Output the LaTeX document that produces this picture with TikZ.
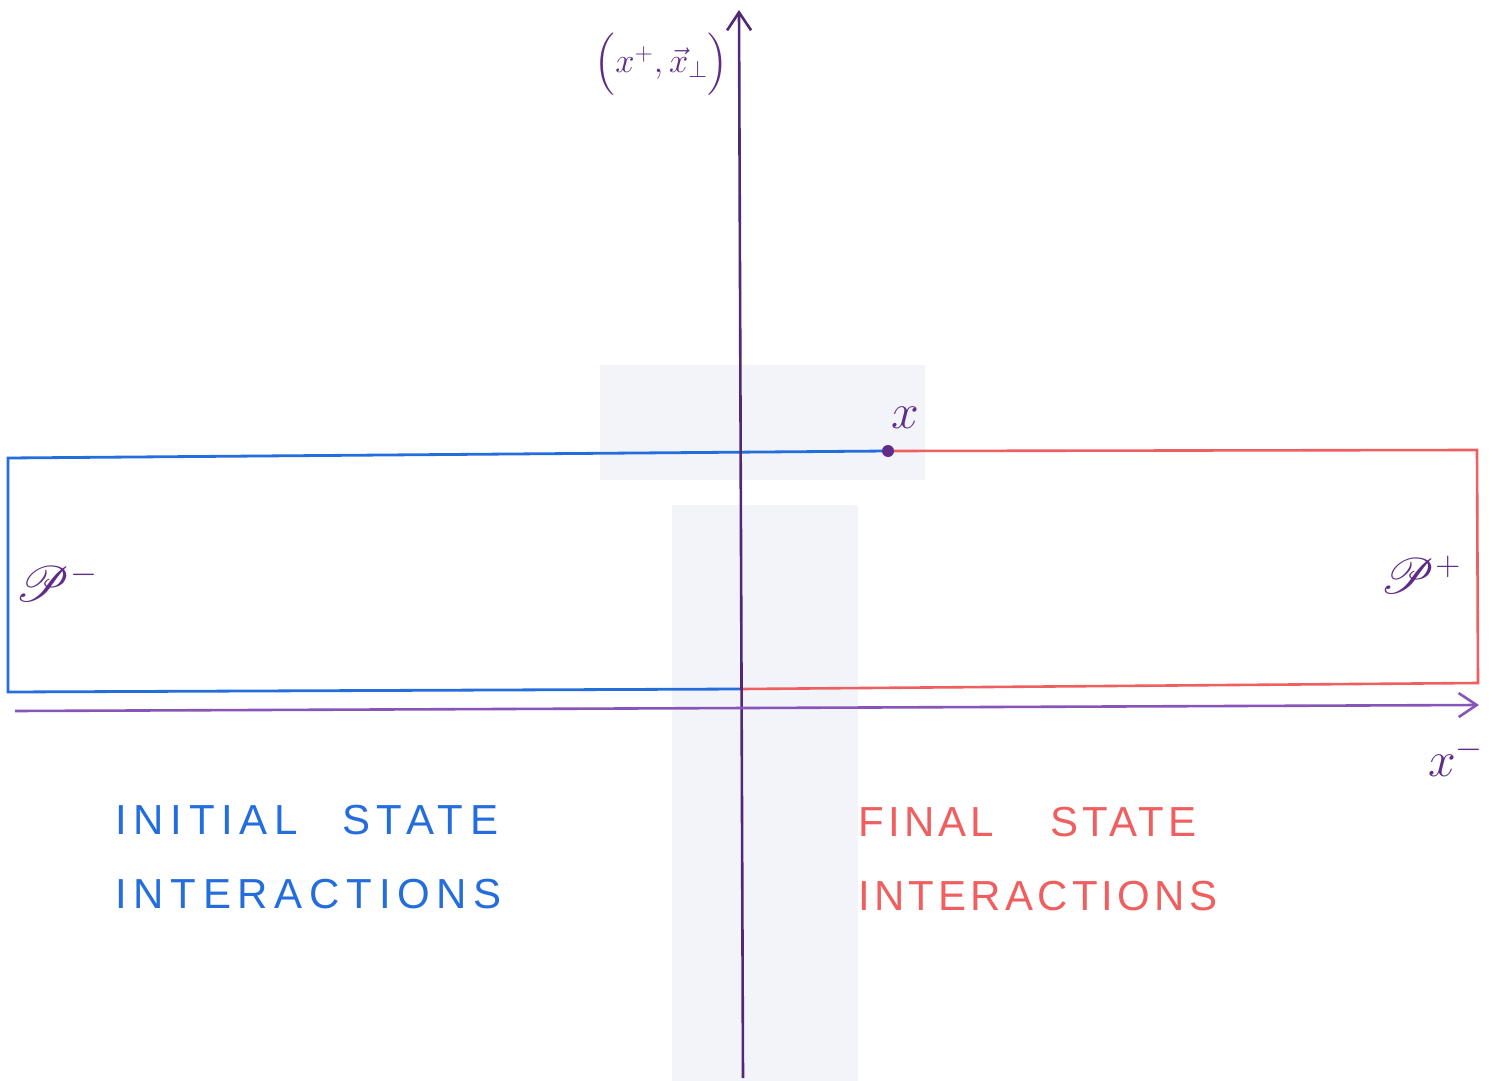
\documentclass[tikz,border=0pt]{standalone}
\usepackage{fontspec}
\usepackage{amsmath}
\usepackage{mathrsfs}
\setsansfont{Liberation Sans}
\usetikzlibrary{arrows.meta}
\definecolor{axisdark}{RGB}{80,40,115}
\definecolor{axislight}{RGB}{135,85,185}
\definecolor{initblue}{RGB}{35,110,220}
\definecolor{finalred}{RGB}{240,95,95}
\definecolor{bgshade}{RGB}{242,244,250}
\definecolor{labelpurple}{RGB}{95,45,135}
\begin{document}
\begin{tikzpicture}[x=0.5pt,y=-0.5pt,
  axisline/.style={line width=1.3pt,-{Straight Barb[length=9pt,width=12pt,line width=1.3pt]}},
  blueline/.style={initblue,line width=1.4pt},
  redline/.style={finalred,line width=1.3pt},
  mathlabel/.style={text=labelpurple,inner sep=0pt,font=\fontsize{23}{27}\selectfont},
  statetext/.style={inner sep=0pt,anchor=west}]
\useasboundingbox (0,0) rectangle (1506,1081);
\fill[white] (0,0) rectangle (1506,1081);
% faint background shading
\fill[bgshade] (600,365) rectangle (925,480);
\fill[bgshade] (672,505) rectangle (858,1081);
% coordinates
\coordinate (vb) at (743,1078);
\coordinate (vt) at (739,10);
\coordinate (hl) at (15,711);
\coordinate (hr) at (1479,705);
\coordinate (btl) at (8,458);
\coordinate (bbl) at (8,692);
\coordinate (bbr) at (742,689);
\coordinate (xp) at (888,451);
\coordinate (rtr) at (1477,450);
\coordinate (rbr) at (1478,683);
% rectangles
\draw[blueline] (xp) -- (btl) -- (bbl) -- (bbr);
\draw[redline] (xp) -- (rtr) -- (rbr) -- (bbr);
% axes
\draw[axisdark,axisline] (vb) -- (vt);
\draw[axislight,axisline] (hl) -- (hr);
% point
\fill[labelpurple] (xp) circle (3pt);
% labels
\node[mathlabel,font=\fontsize{18}{21}\selectfont,anchor=east] (ylab) at (729,64) {$\Bigl(x^{+},\vec{x}_{\perp}\Bigr)$};
\node[mathlabel] (xlab) at (905,418) {$x$};
\node[mathlabel] (pminus) at (57,582) {$\mathscr{P}^{-}$};
\node[mathlabel] (pplus) at (1421,575) {$\mathscr{P}^{+}$};
\node[mathlabel] (xminus) at (1456,757) {$x^{-}$};
\node[statetext,text=initblue,font=\sffamily\fontsize{21}{25}\selectfont\addfontfeatures{LetterSpace=16}] (is1) at (115,820) {INITIAL\hspace{22pt}STATE};
\node[statetext,text=initblue,font=\sffamily\fontsize{21}{25}\selectfont\addfontfeatures{LetterSpace=16}] (is2) at (115,894) {INTERACTIONS};
\node[statetext,text=finalred,font=\sffamily\fontsize{21}{25}\selectfont\addfontfeatures{LetterSpace=10}] (fs1) at (858,822) {FINAL\hspace{28pt}STATE};
\node[statetext,text=finalred,font=\sffamily\fontsize{21}{25}\selectfont\addfontfeatures{LetterSpace=10}] (fs2) at (858,896) {INTERACTIONS};
\end{tikzpicture}
\end{document}
